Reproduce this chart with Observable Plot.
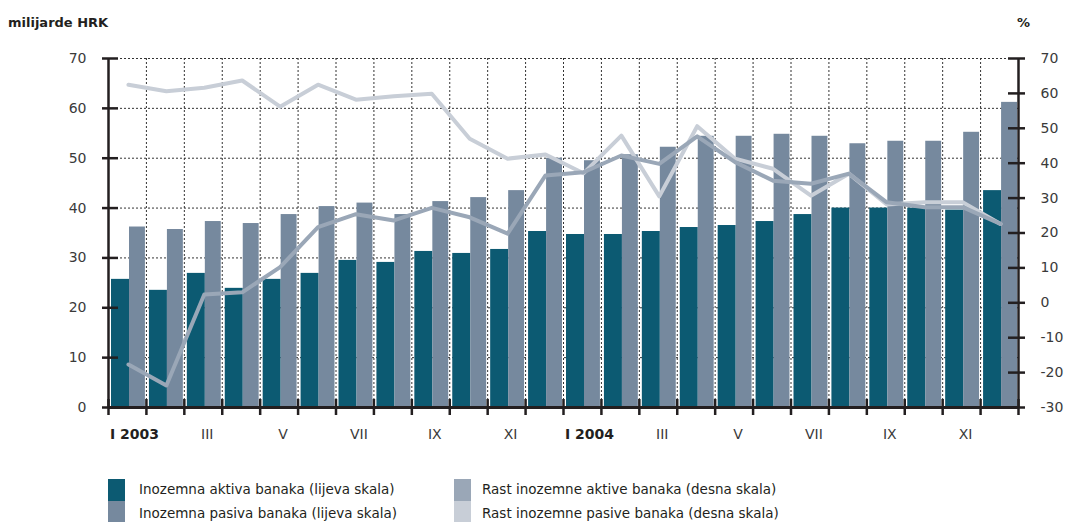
<!DOCTYPE html>
<html>
<head>
<meta charset="utf-8">
<script src="https://cdn.jsdelivr.net/npm/d3@7"></script>
<script src="https://cdn.jsdelivr.net/npm/@observablehq/plot@0.6"></script>
<style>
  body { margin: 0; background: #fff; font-family: "DejaVu Sans", sans-serif; color: #231f20; }
  #wrap { width: 1066px; height: 522px; position: relative; overflow: hidden; }
  #title { position: relative; height: 40px; }
  #title span { position: absolute; top: 16px; font-size: 13px; line-height: 13px; font-weight: bold; color: #231f20; white-space: nowrap; }
  #chart { height: 425px; }
  #chart svg { display: block; }
  #legend { position: relative; height: 57px; }
  .sw { position: absolute; width: 17px; }
  .lt { position: absolute; font-size: 13.5px; line-height: 13.5px; color: #231f20; white-space: nowrap; }
</style>
</head>
<body>
<div id="wrap">
  <div id="title"><span style="left:8px">milijarde HRK</span><span style="left:1017px">%</span></div>
  <div id="chart"></div>
  <div id="legend"></div>
</div>
<script>
// ---- data ----
const months = ["I 2003","II 2003","III 2003","IV 2003","V 2003","VI 2003","VII 2003","VIII 2003","IX 2003","X 2003","XI 2003","XII 2003",
                "I 2004","II 2004","III 2004","IV 2004","V 2004","VI 2004","VII 2004","VIII 2004","IX 2004","X 2004","XI 2004","XII 2004"];
const tickLabels = ["I 2003","III","V","VII","IX","XI","I 2004","III","V","VII","IX","XI"];
const boldLabels = ["I 2003","I 2004"];
// left scale (milijarde HRK)
const inozemnaAktiva = [25.7,23.5,26.9,23.9,25.7,26.9,29.5,29.1,31.3,30.9,31.7,35.3,34.7,34.7,35.3,36.1,36.5,37.3,38.7,40.0,40.0,40.0,39.6,43.5];
const inozemnaPasiva = [36.2,35.7,37.3,36.9,38.7,40.3,41.0,38.7,41.3,42.1,43.5,50.0,49.5,50.7,52.2,54.4,54.4,54.8,54.4,52.9,53.4,53.4,55.2,61.2];
// right scale (%)
const rastAktive = [-17.7,-23.7,2.4,3.0,10.2,21.7,25.4,23.6,27.2,24.5,19.8,36.5,37.4,42.2,39.8,47.7,40.3,35.0,34.1,37.0,28.8,27.4,27.4,22.6];
const rastPasive = [62.5,60.6,61.6,63.7,56.2,62.5,58.2,59.2,59.9,47.0,41.3,42.5,37.1,47.9,30.5,50.6,41.3,38.4,30.7,37.0,28.2,28.8,28.8,22.6];
const leftTicks = [0,10,20,30,40,50,60,70];
const rightTicks = [-30,-20,-10,0,10,20,30,40,50,60,70];
const seriesNames = ["Inozemna aktiva banaka (lijeva skala)","Inozemna pasiva banaka (lijeva skala)",
                     "Rast inozemne aktive banaka (desna skala)","Rast inozemne pasive banaka (desna skala)"];
const seriesColors = ["#0c5a72","#76899e","#9aa7b7","#c8ced7"];

// ---- build ----
const W = 1066, H = 425, ML = 108, MR = 48, MT = 18, MB = 58;
const bw = (W - ML - MR) / months.length;
const toLeft = v => (v + 30) * 0.7;  // right scale [-30,70] -> left scale [0,70]
const data = months.map((m, i) => ({m, a: inozemnaAktiva[i], p: inozemnaPasiva[i], ra: rastAktive[i], rp: rastPasive[i]}));
const labelData = tickLabels.map((t, i) => ({m: months[i * 2], t}));
const axisColor = "#231f20";
const grid = {stroke: "#333", strokeWidth: 1, strokeDasharray: "2,2"};

const chart = Plot.plot({
  width: W, height: H,
  marginLeft: ML, marginRight: MR, marginTop: MT, marginBottom: MB,
  x: {type: "band", domain: months, padding: 0, round: false, axis: null},
  y: {domain: [0, 70], axis: null},
  style: {fontFamily: "DejaVu Sans, sans-serif", fontSize: "14px", color: "#3a3a3a", background: "white", overflow: "visible"},
  marks: [
    Plot.ruleY([10,20,30,40,50,60,70], grid),
    Plot.ruleX(months.slice(1), {dx: -bw / 2, ...grid}),
    Plot.barY(data, {x: "m", y: "a", fill: seriesColors[0], insetLeft: 3, insetRight: bw - 21}),
    Plot.barY(data, {x: "m", y: "p", fill: seriesColors[1], insetLeft: 21, insetRight: 1}),
    Plot.line(data, {x: "m", y: d => toLeft(d.rp), stroke: seriesColors[3], strokeWidth: 4, dx: 1}),
    Plot.line(data, {x: "m", y: d => toLeft(d.ra), stroke: seriesColors[2], strokeWidth: 4, dx: 1}),
    // axis lines
    Plot.ruleX([months[0]], {dx: -bw / 2, stroke: axisColor, strokeWidth: 2.5}),
    Plot.ruleX([months[months.length - 1]], {dx: bw / 2, stroke: axisColor, strokeWidth: 2.5}),
    Plot.ruleY([0], {stroke: axisColor, strokeWidth: 3}),
    // bottom ticks at month boundaries
    Plot.ruleX(months, {dx: -bw / 2, y1: 0, y2: 0, insetTop: -8, insetBottom: -8, stroke: axisColor, strokeWidth: 2.5}),
    Plot.ruleX([months[months.length - 1]], {dx: bw / 2, y1: 0, y2: 0, insetTop: -8, insetBottom: -8, stroke: axisColor, strokeWidth: 2.5}),
    // left and right axis ticks (crossing the axis line)
    Plot.tickY(leftTicks, {y: d => d, x: () => months[0], insetLeft: -6, insetRight: bw - 10, stroke: axisColor, strokeWidth: 2.5}),
    Plot.tickY(rightTicks, {y: d => toLeft(d), x: () => months[months.length - 1], insetLeft: bw - 10, insetRight: -7, stroke: axisColor, strokeWidth: 2.5}),
    Plot.axisY(leftTicks, {anchor: "left", tickSize: 0, tickPadding: 22, label: null, tickFormat: d => String(d)}),
    Plot.axisY(rightTicks, {anchor: "right", y: d => toLeft(d), tickSize: 0, tickPadding: 22, label: null, tickFormat: d => String(d)}),
    // x labels
    Plot.text(labelData.filter(d => !boldLabels.includes(d.t)), {x: "m", text: "t", frameAnchor: "bottom", dy: 31, dx: 4, fill: "#3a3a3a", fontSize: 14}),
    Plot.text(labelData.filter(d => boldLabels.includes(d.t)), {x: "m", text: "t", frameAnchor: "bottom", dy: 31, dx: 7, fill: axisColor, fontSize: 14, fontWeight: "bold"})
  ]
});
document.getElementById("chart").appendChild(chart);

// legend
const legend = document.getElementById("legend");
const pos = [
  {sx: 108, tx: 139, top: 14, h: 22, tt: 18},
  {sx: 108, tx: 139, top: 36, h: 21, tt: 42},
  {sx: 454, tx: 482, top: 14, h: 22, tt: 18},
  {sx: 454, tx: 482, top: 36, h: 21, tt: 42}
];
seriesNames.forEach((name, i) => {
  const p = pos[i];
  const sw = document.createElement("div");
  sw.className = "sw";
  sw.style.left = p.sx + "px"; sw.style.top = p.top + "px"; sw.style.height = p.h + "px";
  sw.style.background = seriesColors[i];
  legend.appendChild(sw);
  const t = document.createElement("div");
  t.className = "lt";
  t.style.left = p.tx + "px"; t.style.top = p.tt + "px";
  t.textContent = name;
  legend.appendChild(t);
});
</script>
</body>
</html>
